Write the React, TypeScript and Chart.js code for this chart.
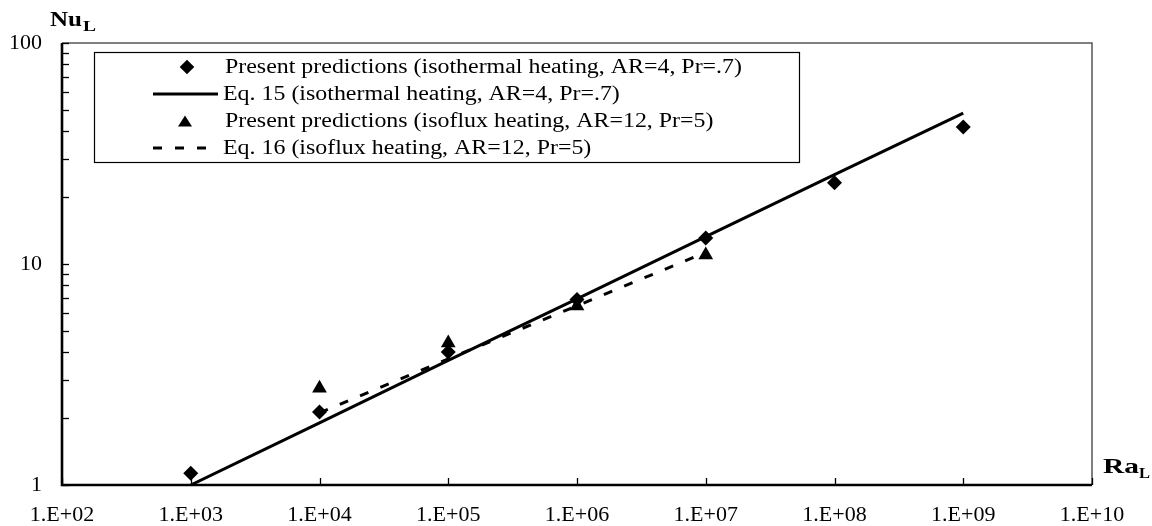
import React, { useEffect, useRef } from "react";
import { Chart, registerables } from "chart.js";

Chart.register(...registerables);

// ---- data ----
const isothermalRa = [1e3, 1e4, 1e5, 1e6, 1e7, 1e8, 1e9];
const isothermalNu = [1.13, 2.14, 4.0, 6.9, 13.1, 23.3, 41.7];

const eq15Ra = [1e3, 1e4, 1e5, 1e6, 1e7, 1e8, 1e9];
const eq15Nu = [1.0, 1.91, 3.66, 6.96, 13.3, 25.4, 48.2];

const isofluxRa = [1e4, 1e5, 1e6, 1e7];
const isofluxNu = [2.74, 4.39, 6.46, 10.98];

const eq16Ra = [1e4, 1e5, 1e6, 1e7];
const eq16Nu = [2.12, 3.72, 6.47, 11.3];

const xTickValues = [1e2, 1e3, 1e4, 1e5, 1e6, 1e7, 1e8, 1e9, 1e10];
const xTickLabels = ["1.E+02", "1.E+03", "1.E+04", "1.E+05", "1.E+06", "1.E+07", "1.E+08", "1.E+09", "1.E+10"];
const yTickMarks = [1, 2, 3, 4, 5, 6, 7, 8, 9, 10, 20, 30, 40, 50, 60, 70, 80, 90, 100];
const yTickValues = [1, 10, 100];
const yTickLabels = ["1", "10", "100"];

const seriesLabels = [
  "Present predictions (isothermal heating, AR=4, Pr=.7)",
  "Eq. 15 (isothermal heating, AR=4, Pr=.7)",
  "Present predictions (isoflux heating, AR=12, Pr=5)",
  "Eq. 16 (isoflux heating, AR=12, Pr=5)",
];

const SERIF = '"Liberation Serif", "Times New Roman", serif';

const toPoints = (xs: number[], ys: number[]) => xs.map((x, i) => ({ x, y: ys[i] }));

function drawDiamond(ctx: CanvasRenderingContext2D, x: number, y: number, r: number) {
  ctx.beginPath();
  ctx.moveTo(x - r, y);
  ctx.lineTo(x, y - r);
  ctx.lineTo(x + r, y);
  ctx.lineTo(x, y + r);
  ctx.closePath();
  ctx.fill();
}

function drawTriangle(ctx: CanvasRenderingContext2D, x: number, y: number, w: number, h: number) {
  ctx.beginPath();
  ctx.moveTo(x, y - h / 2);
  ctx.lineTo(x + w / 2, y + h / 2);
  ctx.lineTo(x - w / 2, y + h / 2);
  ctx.closePath();
  ctx.fill();
}

const framePlugin = {
  id: "frame",
  beforeDatasetsDraw(chart: any) {
    const { ctx, chartArea } = chart;
    const { left, right, top, bottom } = chartArea;
    ctx.save();
    ctx.strokeStyle = "#555";
    ctx.lineWidth = 1.5;
    ctx.beginPath();
    ctx.moveTo(left, top);
    ctx.lineTo(right, top);
    ctx.lineTo(right, bottom);
    ctx.stroke();
    ctx.strokeStyle = "#000";
    ctx.lineWidth = 1.3;
    const xs = chart.scales.x;
    xs.ticks.forEach((t: any) => {
      const px = Math.round(xs.getPixelForValue(t.value)) + 0.5;
      ctx.beginPath();
      ctx.moveTo(px, bottom);
      ctx.lineTo(px, bottom - 7);
      ctx.stroke();
    });
    const ys = chart.scales.y;
    ys.ticks.forEach((t: any) => {
      const py = Math.round(ys.getPixelForValue(t.value)) + 0.5;
      ctx.beginPath();
      ctx.moveTo(left, py);
      ctx.lineTo(left + 7, py);
      ctx.stroke();
    });
    ctx.lineWidth = 2.6;
    ctx.beginPath();
    ctx.moveTo(left, top);
    ctx.lineTo(left, bottom);
    ctx.lineTo(right, bottom);
    ctx.stroke();
    ctx.restore();
  },
};

const legendPlugin = {
  id: "boxLegend",
  afterDatasetsDraw(chart: any) {
    const ctx: CanvasRenderingContext2D = chart.ctx;
    ctx.save();
    ctx.fillStyle = "#fff";
    ctx.fillRect(94, 52, 706, 110);
    ctx.strokeStyle = "#000";
    ctx.lineWidth = 1.2;
    ctx.strokeRect(94.5, 52.5, 705, 110);
    ctx.font = `20px ${SERIF}`;
    const sx = 517 / ctx.measureText(seriesLabels[0]).width;
    chart.data.datasets.forEach((ds: any, i: number) => {
      const y = 67 + i * 27;
      ctx.fillStyle = "#000";
      ctx.strokeStyle = "#000";
      if (ds.showLine) {
        ctx.lineWidth = ds.borderWidth;
        ctx.setLineDash(ds.borderDash || []);
        ctx.beginPath();
        ctx.moveTo(153, y);
        ctx.lineTo(218, y);
        ctx.stroke();
        ctx.setLineDash([]);
      } else if (ds.pointStyle === "rectRot") {
        drawDiamond(ctx, 187, y, 7.3);
      } else {
        drawTriangle(ctx, 185, y, 14, 11);
      }
      ctx.save();
      ctx.translate(ds.showLine ? 223 : 225, y + 1);
      ctx.scale(sx, 1);
      ctx.textBaseline = "middle";
      ctx.textAlign = "left";
      ctx.fillText(ds.label, 0, 0);
      ctx.restore();
    });
    ctx.restore();
  },
};

const titlePlugin = {
  id: "axisTitles",
  afterDraw(chart: any) {
    const ctx: CanvasRenderingContext2D = chart.ctx;
    ctx.save();
    ctx.fillStyle = "#000";
    ctx.textBaseline = "alphabetic";
    ctx.textAlign = "left";
    const drawScaled = (text: string, x: number, y: number, font: string, width: number) => {
      ctx.font = font;
      const s = width / ctx.measureText(text).width;
      ctx.save();
      ctx.translate(x, y);
      ctx.scale(s, 1);
      ctx.fillText(text, 0, 0);
      ctx.restore();
    };
    drawScaled("Nu", 50, 26, `bold 22px ${SERIF}`, 32);
    drawScaled("L", 83, 31, `bold 15px ${SERIF}`, 13);
    drawScaled("Ra", 1103, 473, `bold 21px ${SERIF}`, 36);
    drawScaled("L", 1139, 478, `bold 15px ${SERIF}`, 11);
    ctx.restore();
  },
};

export default function App() {
  const canvasRef = useRef<HTMLCanvasElement | null>(null);

  useEffect(() => {
    if (!canvasRef.current) return;
    const tickFont = { family: SERIF, size: 22 };
    const chart = new Chart(canvasRef.current, {
      type: "scatter",
      data: {
        datasets: [
          {
            label: seriesLabels[0],
            data: toPoints(isothermalRa, isothermalNu),
            showLine: false,
            pointStyle: "rectRot",
            pointRadius: 7.5,
            pointHoverRadius: 7.5,
            backgroundColor: "#000",
            borderColor: "#000",
            pointBorderWidth: 0,
          },
          {
            label: seriesLabels[1],
            data: toPoints(eq15Ra, eq15Nu),
            showLine: true,
            pointRadius: 0,
            borderColor: "#000",
            backgroundColor: "#000",
            borderWidth: 3,
          },
          {
            label: seriesLabels[2],
            data: toPoints(isofluxRa, isofluxNu),
            showLine: false,
            pointStyle: "triangle",
            pointRadius: 8.5,
            pointHoverRadius: 8.5,
            backgroundColor: "#000",
            borderColor: "#000",
            pointBorderWidth: 0,
          },
          {
            label: seriesLabels[3],
            data: toPoints(eq16Ra, eq16Nu),
            showLine: true,
            pointRadius: 0,
            borderColor: "#000",
            backgroundColor: "#000",
            borderWidth: 3,
            borderDash: [9, 13],
          },
        ],
      } as any,
      options: {
        animation: false,
        responsive: true,
        maintainAspectRatio: false,
        layout: { padding: { left: 0, top: 43, right: 60, bottom: 0 } },
        plugins: { legend: { display: false }, tooltip: { enabled: false } },
        scales: {
          x: {
            type: "logarithmic",
            position: "bottom",
            min: 1e2,
            max: 1e10,
            grid: { display: false, drawTicks: false },
            border: { display: false },
            afterBuildTicks: (scale: any) => {
              scale.ticks = xTickValues.map((v) => ({ value: v }));
            },
            afterFit: (scale: any) => {
              scale.height = 41;
            },
            ticks: {
              autoSkip: false,
              maxRotation: 0,
              minRotation: 0,
              padding: 17,
              color: "#000",
              font: tickFont,
              callback: (v: any) => {
                const i = xTickValues.indexOf(Number(v));
                return i >= 0 ? xTickLabels[i] : "";
              },
            },
          },
          y: {
            type: "logarithmic",
            position: "left",
            min: 1,
            max: 100,
            grid: { display: false, drawTicks: false },
            border: { display: false },
            afterBuildTicks: (scale: any) => {
              scale.ticks = yTickMarks.map((v) => ({ value: v }));
            },
            afterFit: (scale: any) => {
              scale.width = 62;
            },
            ticks: {
              autoSkip: false,
              padding: 20,
              color: "#000",
              font: tickFont,
              callback: (v: any) => {
                const i = yTickValues.indexOf(Number(v));
                return i >= 0 ? yTickLabels[i] : "";
              },
            },
          },
        },
      } as any,
      plugins: [framePlugin, legendPlugin, titlePlugin],
    });
    return () => chart.destroy();
  }, []);

  return (
    <div style={{ position: "fixed", left: 0, top: 0, width: 1152, height: 526, background: "#fff" }}>
      <canvas ref={canvasRef} />
    </div>
  );
}
